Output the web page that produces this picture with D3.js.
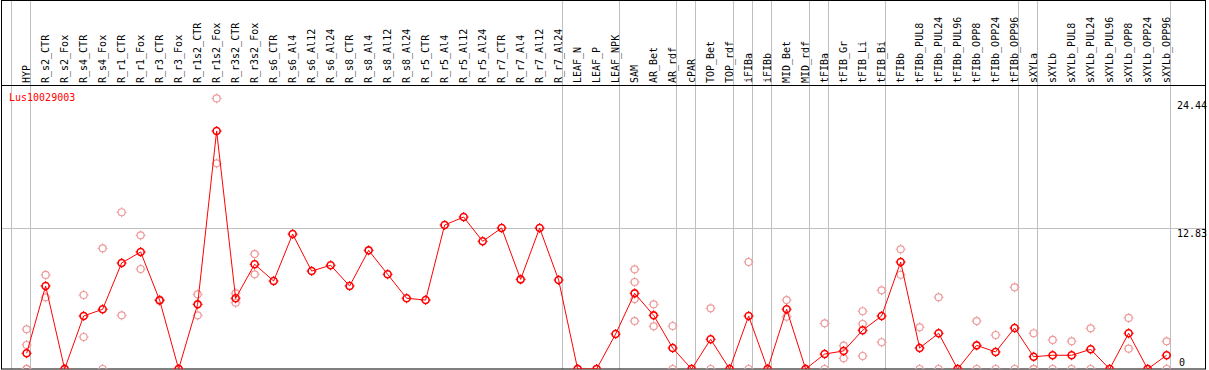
<!DOCTYPE html>
<html>
<head>
<meta charset="utf-8">
<script src="https://cdn.jsdelivr.net/npm/d3@7"></script>
<style>
  body { margin: 0; background: #fff; }
  text { font-family: "DejaVu Sans Mono", monospace; font-size: 10px; }
</style>
</head>
<body>
<div id="chart"></div>
<script>
// sample names (one column each)
var categories = ["HYP", "R_s2_CTR", "R_s2_Fox", "R_s4_CTR", "R_s4_Fox", "R_r1_CTR", "R_r1_Fox",
  "R_r3_CTR", "R_r3_Fox", "R_r1s2_CTR", "R_r1s2_Fox", "R_r3s2_CTR", "R_r3s2_Fox",
  "R_s6_CTR", "R_s6_Al4", "R_s6_Al12", "R_s6_Al24", "R_s8_CTR", "R_s8_Al4", "R_s8_Al12", "R_s8_Al24",
  "R_r5_CTR", "R_r5_Al4", "R_r5_Al12", "R_r5_Al24", "R_r7_CTR", "R_r7_Al4", "R_r7_Al12", "R_r7_Al24",
  "LEAF_N", "LEAF_P", "LEAF_NPK", "SAM", "AR_Bet", "AR_rdf", "cPAR", "TOP_Bet", "TOP_rdf",
  "iFIBa", "iFIBb", "MID_Bet", "MID_rdf", "tFIBa", "tFIB_Gr", "tFIB_Li", "tFIB_Bi",
  "tFIBb", "tFIBb_PUL8", "tFIBb_PUL24", "tFIBb_PUL96", "tFIBb_OPP8", "tFIBb_OPP24", "tFIBb_OPP96",
  "sXYLa", "sXYLb", "sXYLb_PUL8", "sXYLb_PUL24", "sXYLb_PUL96", "sXYLb_OPP8", "sXYLb_OPP24", "sXYLb_OPP96"];

// mean expression per sample
var means = [1.43, 7.55, 0, 4.82, 5.43, 9.64, 10.64, 6.25, 0, 5.88, 21.64, 6.43, 9.52,
  8.0, 12.27, 8.91, 9.43, 7.55, 10.79, 8.61, 6.43,
  6.27, 13.09, 13.82, 11.61, 12.82, 8.15, 12.82, 8.09,
  0, 0, 3.18, 6.88, 4.88, 1.91, 0, 2.7, 0,
  4.82, 0, 5.43, 0, 1.36, 1.64, 3.52, 4.82,
  9.73, 1.91, 3.25, 0, 2.15, 1.55, 3.73,
  1.12, 1.25, 1.25, 1.79, 0, 3.25, 0, 1.25];

// individual replicates per sample
var replicates = [[3.61, 2.18, 0, 0], [8.55, 6.52], [0, 0], [6.73, 2.91], [10.97, 0], [14.25, 4.88], [12.15, 9.09],
  [6.2, 6.3], [0, 0], [6.79, 4.88], [24.6, 18.7], [6.88, 6.03], [10.45, 8.61],
  [], [], [], [], [], [], [], [],
  [], [], [], [], [], [], [], [],
  [0, 0], [0, 0], [], [9.06, 7.91, 6.36, 4.36], [5.88, 3.88], [3.91, 0], [0, 0], [5.52, 0], [0, 0],
  [9.73, 0], [0, 0], [6.27, 4.75], [0, 0], [4.15, 0], [2.12, 0.97], [5.25, 4.09, 1.18], [7.15, 2.43],
  [10.88, 8.57], [3.79, 0], [6.52, 0], [0, 0], [4.36, 0], [3.09, 0], [7.43, 0],
  [3.25, 0, 0], [2.64, 0], [2.52, 0], [3.7, 0], [0, 0], [4.64, 1.85], [0, 0], [2.52, 0]];

// first sample of each tissue group
var groupStarts = ["HYP", "R_s2_CTR", "LEAF_N", "SAM", "cPAR", "TOP_Bet", "iFIBa", "iFIBb",
  "MID_Bet", "tFIBa", "tFIB_Gr", "tFIBb", "sXYLa", "sXYLb"];

var yTicks = [0, 12.83, 24.44];
var geneName = "Lus10029003";

var width = 1209, height = 370;
var headerBottom = 85, plotBottom = 369, plotRight = 1171;

var svg = d3.select("#chart").append("svg")
  .attr("width", width)
  .attr("height", height);

var x = d3.scaleBand()
  .domain(categories)
  .range([12, plotRight]);

// point sits towards the right of each column
function cx(c) { return x(c) + x.bandwidth() * 0.77; }

var y = d3.scaleLinear()
  .domain([0, 24.44])
  .range([plotBottom, 100.2]);

svg.append("defs").append("clipPath").attr("id", "plotclip")
  .append("rect").attr("x", 1).attr("y", headerBottom).attr("width", plotRight - 1).attr("height", plotBottom - headerBottom);

// horizontal grid line
svg.append("line")
  .attr("x1", 1).attr("x2", 1206)
  .attr("y1", Math.round(y(12.83)) + 0.5).attr("y2", Math.round(y(12.83)) + 0.5)
  .attr("stroke", "#c0c0c0");

// group separators
var seps = groupStarts.map(function(c) { return x(c); }).concat([plotRight]);
svg.selectAll(".sep")
  .data(seps)
  .enter().append("line")
  .attr("class", "sep")
  .attr("x1", function(d) { return Math.round(d) - 0.5; })
  .attr("x2", function(d) { return Math.round(d) - 0.5; })
  .attr("y1", 0).attr("y2", plotBottom)
  .attr("stroke", "#c0c0c0");

// frame
svg.append("rect")
  .attr("x", 1.5).attr("y", 0.5)
  .attr("width", 1204).attr("height", plotBottom - 0.5)
  .attr("fill", "none").attr("stroke", "#000");
svg.append("line")
  .attr("x1", 1).attr("x2", 1206)
  .attr("y1", headerBottom + 0.5).attr("y2", headerBottom + 0.5)
  .attr("stroke", "#000");

// column labels
svg.selectAll(".lab")
  .data(categories)
  .enter().append("text")
  .attr("class", "lab")
  .attr("transform", function(d) { return "translate(" + (cx(d) + 3) + "," + (headerBottom - 2) + ") rotate(-90)"; })
  .attr("fill", "#000")
  .text(function(d) { return d; });

// y labels
svg.selectAll(".ylab")
  .data(yTicks)
  .enter().append("text")
  .attr("class", "ylab")
  .attr("x", function(d) { return d === 0 ? 1179 : 1177; })
  .attr("y", function(d) { return d === 0 ? y(d) - 3 : y(d) + 9; })
  .attr("fill", "#000")
  .text(function(d) { return d; });

svg.append("text")
  .attr("x", 9).attr("y", 101)
  .attr("fill", "#ff0000")
  .text(geneName);

var plot = svg.append("g").attr("clip-path", "url(#plotclip)");

function marker(g, px, py, color, sw) {
  g.append("circle")
    .attr("cx", px).attr("cy", py).attr("r", 3.5)
    .attr("fill", "none").attr("stroke", color).attr("stroke-width", sw);
  [[0, -1], [0, 1], [-1, 0], [1, 0]].forEach(function(d) {
    g.append("line")
      .attr("x1", px + d[0] * 3.5).attr("y1", py + d[1] * 3.5)
      .attr("x2", px + d[0] * 5).attr("y2", py + d[1] * 5)
      .attr("stroke", color).attr("stroke-width", 1);
  });
}

// replicate points
categories.forEach(function(c, i) {
  replicates[i].forEach(function(v) {
    marker(plot, cx(c), y(v), "#ee9a9a", 1.2);
  });
});

// mean line
var line = d3.line()
  .x(function(d, i) { return cx(categories[i]); })
  .y(function(d) { return y(d); });

plot.append("path")
  .datum(means)
  .attr("d", line)
  .attr("fill", "none")
  .attr("stroke", "#ff0000")
  .attr("stroke-width", 1);

categories.forEach(function(c, i) {
  marker(plot, cx(c), y(means[i]), "#ff0000", 1.6);
});
</script>
</body>
</html>
